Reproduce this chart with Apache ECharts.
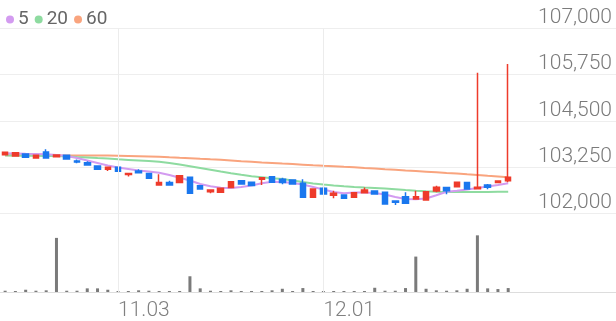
<!DOCTYPE html>
<html>
<head>
<meta charset="utf-8">
<script src="https://cdn.jsdelivr.net/npm/echarts@6/dist/echarts.min.js"></script>
<style>
html,body{margin:0;padding:0;background:#fff;}
#c{width:616px;height:321px;}
</style>
</head>
<body>
<div id="c"></div>
<script>
const dates = ['10.17','10.20','10.21','10.22','10.23','10.24','10.27','10.28','10.29','10.30',
  '10.31','11.03','11.04','11.05','11.06','11.07','11.10','11.11','11.12','11.13',
  '11.14','11.17','11.18','11.19','11.20','11.21','11.24','11.25','11.26','11.27',
  '11.28','12.01','12.02','12.03','12.04','12.05','12.08','12.09','12.10','12.11',
  '12.12','12.15','12.16','12.17','12.18','12.19','12.22','12.23','12.24','12.26'];
const labelDates = ['11.03','12.01'];

const open = [103585,103550,103605,103495,103660,103530,103570,103415,103370,103280,
  103190,103245,103050,103145,103080,102765,102830,102830,102975,102745,
  102585,102570,102695,102880,102840,102920,102990,102920,102900,102810,
  102435,102675,102485,102495,102435,102555,102605,102570,102335,102450,
  102385,102360,102605,102695,102720,102830,102665,102765,102830,102880];
const close = [103650,103640,103515,103570,103495,103580,103470,103390,103305,103190,
  103245,103135,103080,103100,102945,102830,102765,103015,102540,102660,
  102630,102675,102855,102795,102750,102965,102840,102830,102795,102435,
  102660,102520,102540,102405,102555,102630,102520,102250,102300,102270,
  102450,102585,102705,102610,102840,102660,102705,102705,102875,102975];
const low = [103580,103545,103510,103490,103490,103525,103465,103355,103300,103185,
  103145,103130,102995,103095,102940,102760,102760,102825,102535,102655,
  102540,102565,102690,102790,102745,102765,102835,102785,102790,102430,
  102430,102515,102405,102400,102430,102550,102515,102245,102225,102265,
  102380,102355,102570,102515,102715,102655,102660,102650,102825,102840];
const high = [103655,103645,103610,103575,103730,103585,103575,103455,103405,103285,
  103250,103250,103085,103190,103085,103055,102880,103020,102980,102750,
  102635,102680,102860,102885,102845,102970,102995,102965,102905,102920,
  102665,102720,102610,102500,102560,102695,102610,102575,102340,102570,
  102610,102590,102745,102700,102845,102835,105805,102795,102880,106040];

const ma5 = [103624,103618,103610,103605,103599,103578,103551,103496,103429,103361,
  103293,103239,103199,103158,103131,103099,103036,102963,102888,102793,
  102731,102690,102685,102712,102752,102812,102855,102847,102820,102779,
  102712,102644,102576,102541,102563,102563,102549,102509,102441,102387,
  102379,102400,102490,102582,102612,102644,102685,102725,102766,102812];
const ma20 = [103564,103561,103559,103556,103553,103548,103540,103526,103513,103496,
  103480,103461,103445,103429,103413,103394,103361,103321,103275,103226,
  103177,103128,103082,103042,103004,102977,102950,102925,102888,102847,
  102809,102779,102755,102733,102714,102698,102685,102668,102649,102630,
  102612,102595,102584,102576,102574,102574,102576,102576,102582,102584];
const ma60 = [103569,103569,103568,103568,103567,103566,103565,103564,103563,103562,
  103561,103558,103553,103545,103537,103529,103515,103502,103491,103475,
  103461,103448,103429,103410,103394,103377,103361,103345,103331,103315,
  103299,103285,103272,103258,103245,103226,103210,103193,103177,103158,
  103142,103126,103109,103091,103074,103055,103039,103017,102996,102974];

const volume = [1300,1000,2300,1300,1700,55000,1300,1300,3700,3700,
  2300,1000,1000,1700,1300,1000,1000,1000,16000,3700,
  1300,1000,1700,1000,1000,1000,1700,3300,1000,4000,
  1000,1000,1000,1000,1000,1000,4300,1300,1300,4000,
  36000,3300,1700,1300,1700,3300,57600,3700,3000,4000];

const priceTicks = [102000,103250,104500,105750,107000];

const UP = '#ee3b2b', DOWN = '#1a77ee';
const candles = dates.map((d,i)=>{
  const c = close[i] >= open[i] ? UP : DOWN;
  return {value:[open[i],close[i],low[i],high[i]],
    itemStyle:{color:c, color0:c, borderColor:c, borderColor0:c, borderColorDoji:c}};
});
const showIdx = (idx)=> labelDates.indexOf(dates[idx]) >= 0;
const SLOTS = 60;
const vLines = {
  silent:true, symbol:'none', label:{show:false}, emphasis:{disabled:true},
  lineStyle:{color:'#ececec', type:'solid', width:1},
  data: labelDates.map(d=>({xAxis:d}))
};

const chart = echarts.init(document.getElementById('c'), null, {renderer:'canvas'});
chart.setOption({
  animation:false,
  backgroundColor:'#fff',
  textStyle:{fontFamily:'Roboto'},
  legend:{
    left:1, top:5, icon:'circle', itemWidth:8, itemHeight:8, itemGap:6,
    textStyle:{fontSize:19, color:'#666', fontFamily:'Roboto', padding:[0,0,0,-1]},
    data:['5','20','60']
  },
  grid:[
    {left:0, right:0, top:28.5, height:184.8},
    {left:0, right:0, top:213.3, bottom:28}
  ],
  xAxis:[
    {type:'category', gridIndex:0, data:dates, max:SLOTS-1, boundaryGap:true,
     axisLine:{show:false}, axisTick:{show:false}, axisLabel:{show:false},
     splitLine:{show:false}},
    {type:'category', gridIndex:1, data:dates, max:SLOTS-1, boundaryGap:true,
     axisLine:{show:true, lineStyle:{color:'#dddddd', width:1}}, axisTick:{show:false},
     axisLabel:{show:true, interval:(i)=>showIdx(i), align:'left', margin:8,
       fontSize:21, color:'#808080', fontFamily:'Roboto', fontWeight:300},
     splitLine:{show:false}}
  ],
  yAxis:[
    {type:'value', gridIndex:0, position:'right', min:priceTicks[0], max:priceTicks[priceTicks.length-1],
     interval:priceTicks[1]-priceTicks[0], scale:true,
     axisLine:{show:false}, axisTick:{show:false},
     axisLabel:{inside:true, align:'right', verticalAlign:'bottom', margin:4,
       fontSize:21, color:'#7b7b7b', fontFamily:'Roboto', fontWeight:300,
       formatter:(v)=>v.toLocaleString('en-US')},
     splitLine:{show:true, lineStyle:{color:'#eeeeee', width:1}}},
    {type:'value', gridIndex:1, min:0, max:80000, show:false, splitLine:{show:false}}
  ],
  series:[
    {name:'60', type:'line', xAxisIndex:0, yAxisIndex:0, data:ma60, symbol:'none', z:1,
     lineStyle:{color:'#f9a47e', width:2}, itemStyle:{color:'#f9a47e'}, markLine:vLines},
    {name:'20', type:'line', xAxisIndex:0, yAxisIndex:0, data:ma20, symbol:'none',
     lineStyle:{color:'#8edba0', width:2}, itemStyle:{color:'#8edba0'}},
    {name:'5', type:'line', xAxisIndex:0, yAxisIndex:0, data:ma5, symbol:'none',
     lineStyle:{color:'#d39bf0', width:2}, itemStyle:{color:'#d39bf0'}},
    {name:'candle', type:'candlestick', xAxisIndex:0, yAxisIndex:0, data:candles, barWidth:6, z:3,
     itemStyle:{color:UP, color0:DOWN, borderColor:UP, borderColor0:DOWN, borderWidth:1.5}},
    {name:'vol', type:'bar', xAxisIndex:1, yAxisIndex:1, data:volume, barWidth:3,
     itemStyle:{color:'#7a7a7a'}, markLine:vLines}
  ]
});
</script>
</body>
</html>
